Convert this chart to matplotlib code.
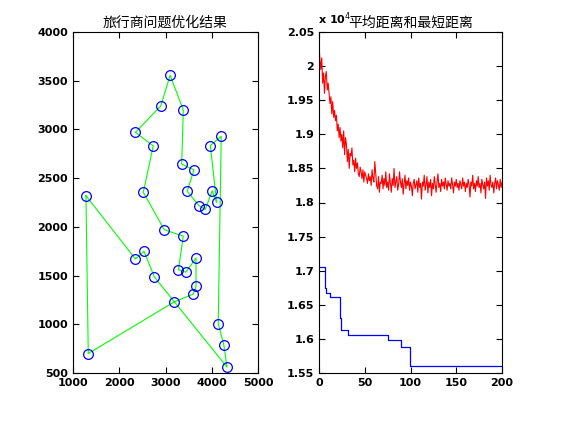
import matplotlib
matplotlib.use("Agg")
import matplotlib.pyplot as plt
import numpy as np

plt.rcParams['font.family'] = ['Noto Sans CJK SC', 'DejaVu Sans']

route_x = [1280, 1330, 3190, 3600, 3660, 3660, 3440, 3280, 3385, 2975, 2520, 2735, 2350, 2895, 3100,
           3385, 3350, 3615, 3470, 3730, 3860, 4010, 4105, 3970, 4205, 4140, 4260, 4330, 2760, 2535, 2350, 1280]
route_y = [2320, 700, 1230, 1310, 1390, 1680, 1535, 1560, 1905, 1970, 2355, 2830, 2970, 3240, 3555,
           3200, 2645, 2585, 2365, 2215, 2180, 2370, 2250, 2835, 2930, 1005, 790, 560, 1485, 1750, 1670, 2320]

avg_dist = [2.030, 2.010, 1.995, 2.012, 1.975, 1.990, 1.960, 1.985, 1.992, 1.965, 1.975,
            1.960, 1.945, 1.955, 1.930, 1.948, 1.925, 1.935, 1.920, 1.928, 1.905,
            1.915, 1.895, 1.910, 1.890, 1.900, 1.880, 1.905, 1.870, 1.895, 1.885,
            1.860, 1.878, 1.850, 1.872, 1.868, 1.880, 1.855, 1.862, 1.845, 1.865,
            1.850, 1.858, 1.842, 1.838, 1.852, 1.845, 1.835, 1.848, 1.830, 1.845,
            1.840, 1.835, 1.828, 1.842, 1.832, 1.838, 1.825, 1.848, 1.835, 1.830,
            1.860, 1.842, 1.825, 1.820, 1.838, 1.815, 1.830, 1.828, 1.840, 1.820,
            1.835, 1.825, 1.845, 1.822, 1.830, 1.818, 1.842, 1.828, 1.815, 1.835,
            1.825, 1.850, 1.822, 1.830, 1.838, 1.818, 1.826, 1.845, 1.830, 1.822,
            1.835, 1.812, 1.828, 1.840, 1.820, 1.832, 1.825, 1.836, 1.818, 1.830,
            1.824, 1.810, 1.828, 1.834, 1.820, 1.826, 1.832, 1.815, 1.836, 1.822,
            1.828, 1.805, 1.830, 1.824, 1.840, 1.818, 1.826, 1.838, 1.814, 1.830,
            1.822, 1.834, 1.810, 1.828, 1.820, 1.838, 1.826, 1.815, 1.830, 1.842,
            1.822, 1.828, 1.816, 1.834, 1.824, 1.830, 1.820, 1.836, 1.826, 1.818,
            1.832, 1.824, 1.828, 1.820, 1.836, 1.826, 1.814, 1.830, 1.824, 1.834,
            1.822, 1.828, 1.818, 1.832, 1.826, 1.820, 1.836, 1.824, 1.830, 1.816,
            1.828, 1.822, 1.834, 1.826, 1.808, 1.830, 1.824, 1.840, 1.820, 1.828,
            1.816, 1.832, 1.824, 1.838, 1.822, 1.828, 1.814, 1.834, 1.826, 1.820,
            1.830, 1.806, 1.836, 1.824, 1.832, 1.818, 1.840, 1.826, 1.822, 1.830,
            1.814, 1.828, 1.836, 1.820, 1.832, 1.826, 1.818, 1.834, 1.822, 1.830]

best_iter = [0, 7, 8, 12, 23, 24, 32, 75, 90, 99, 200]
best_dist = [1.705, 1.675, 1.667, 1.662, 1.631, 1.613, 1.605, 1.599, 1.588, 1.560, 1.560]

fig = plt.figure(figsize=(5.61, 4.21), dpi=100)
ax1 = fig.add_axes([73/561, 1-373/421, 185/561, 341/421])
ax2 = fig.add_axes([319/561, 1-373/421, 183/561, 341/421])

ax1.plot(route_x, route_y, color='#00ff00', lw=0.8)
ax1.plot(route_x[:-1], route_y[:-1], 'o', mfc='none', mec='blue', ms=7, mew=0.9)
ax1.set_xlim(1000, 5000)
ax1.set_ylim(500, 4000)
ax1.set_xticks(range(1000, 5001, 1000))
ax1.set_yticks(range(500, 4001, 500))
ax1.set_title('旅行商问题优化结果', fontsize=10, pad=4)

it = np.arange(len(avg_dist))
ax2.plot(it, avg_dist, color='red', lw=0.8)
ax2.step(best_iter, best_dist, where='post', color='blue', lw=0.9)
ax2.set_xlim(0, 200)
ax2.set_ylim(1.55, 2.05)
ax2.set_xticks(range(0, 201, 50))
ax2.set_yticks(np.arange(1.55, 2.051, 0.05))
ax2.set_yticklabels(['1.55', '1.6', '1.65', '1.7', '1.75', '1.8', '1.85', '1.9', '1.95', '2', '2.05'])
ax2.set_title('平均距离和最短距离', fontsize=10, pad=4)
fig.text(318/561, 1-19/421, 'x 10$^4$', fontsize=8, fontweight='bold', family='DejaVu Sans',
         ha='left', va='center')

for ax in (ax1, ax2):
    ax.tick_params(direction='in', top=True, right=True, labelsize=8, length=4, width=0.8)
    for lab in ax.get_xticklabels() + ax.get_yticklabels():
        lab.set_fontweight('bold')
        lab.set_family('DejaVu Sans')
    for s in ax.spines.values():
        s.set_linewidth(0.8)

fig.savefig('out.png', dpi=100)
